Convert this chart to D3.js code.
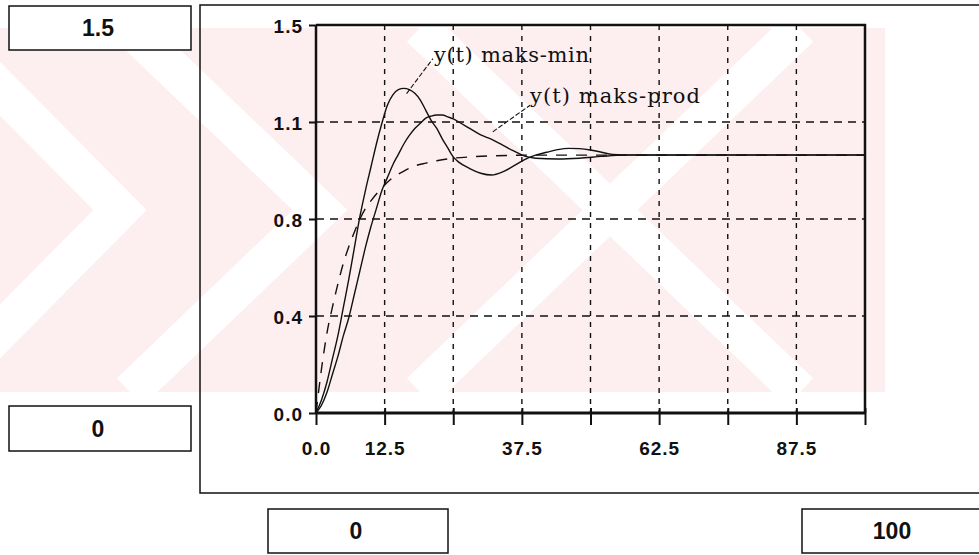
<!DOCTYPE html>
<html>
<head>
<meta charset="utf-8">
<script src="https://cdn.jsdelivr.net/npm/d3@7"></script>
<style>
  body { margin: 0; background: #fff; }
  svg { display: block; }
  .tick text { font-family: "Liberation Sans", Arial, sans-serif; font-weight: bold; font-size: 19px; letter-spacing: 1px; fill: #111; }
  .box text { font-family: "Liberation Sans", Arial, sans-serif; font-weight: bold; font-size: 23px; fill: #111; }
  .lbl { font-family: "DejaVu Serif", serif; font-size: 21px; fill: #111; }
</style>
</head>
<body>
<div id="chart"></div>
<script>
// step responses y(t)

// maks-min (higher overshoot)
let tMin = [0, 1, 2, 3, 4, 5, 6, 7, 8, 9, 10, 11, 12, 13, 14, 15, 16, 17, 18, 19, 20, 21, 22, 23, 24, 25, 26, 28, 30, 32, 34, 36, 38, 40, 42, 44, 46, 48, 50, 52, 54, 58, 100]
let yMin = [0, 0.05, 0.12, 0.21, 0.30, 0.41, 0.52, 0.64, 0.76, 0.86, 0.95, 1.04, 1.12, 1.19, 1.23, 1.25, 1.255, 1.25, 1.236, 1.21, 1.17, 1.13, 1.10, 1.06, 1.025, 0.99, 0.97, 0.945, 0.927, 0.92, 0.932, 0.955, 0.98, 0.997, 1.008, 1.018, 1.023, 1.022, 1.017, 1.008, 1.0, 0.998, 0.998]

// maks-prod (lower overshoot, slower)
let tProd = [0, 1, 2, 3, 4, 5, 6, 7, 8, 9, 10, 11, 12, 13, 14, 15, 16, 17, 18, 19, 20, 21, 22, 23, 24, 25, 26, 28, 30, 32, 34, 36, 38, 40, 44, 48, 52, 56, 100]
let yProd = [0, 0.03, 0.08, 0.15, 0.22, 0.30, 0.37, 0.46, 0.55, 0.64, 0.72, 0.79, 0.86, 0.91, 0.96, 1.0, 1.04, 1.073, 1.10, 1.12, 1.14, 1.148, 1.152, 1.152, 1.145, 1.137, 1.125, 1.10, 1.075, 1.058, 1.036, 1.013, 0.993, 0.985, 0.982, 0.985, 0.992, 0.997, 0.997]

// reference response (dashed)
let tRef = [0, 1, 2, 3, 4, 5, 6, 7, 8, 9, 10, 12, 14, 16, 18, 20, 22, 25, 28, 32, 36, 40, 100]
let yRef = [0, 0.17, 0.31, 0.41, 0.50, 0.58, 0.645, 0.70, 0.75, 0.79, 0.82, 0.87, 0.91, 0.935, 0.955, 0.966, 0.975, 0.985, 0.99, 0.994, 0.996, 0.997, 0.997]

let xTicks = [0, 12.5, 25, 37.5, 50, 62.5, 75, 87.5, 100]
let xLabeled = [0, 12.5, 37.5, 62.5, 87.5]
let yTicks = [0, 0.375, 0.75, 1.125, 1.5]

// the little value boxes around the plot
let boxTexts = ["1.5", "0", "0", "100"]

let W = 979, H = 555

let svg = d3.select('#chart')
    .append('svg')
    .attr('width', W)
    .attr('height', H)

// faint watermark behind everything
let wm = svg.append('g')
wm.append('rect')
    .attr('x', 0).attr('y', 28).attr('width', 885).attr('height', 364)
    .attr('fill', '#fdeef0')
let stripes = [
    [[130, 28], [320, 210], [130, 392]],
    [[-60, 28], [120, 210], [-60, 392]],
    [[420, 28], [610, 210], [800, 28]],
    [[420, 392], [610, 210], [800, 392]]
]
stripes.forEach(s => {
    wm.append('polyline')
        .attr('points', s.map(p => p.join(',')).join(' '))
        .attr('fill', 'none')
        .attr('stroke', '#fff')
        .attr('stroke-width', 38)
})

// outer panel frame
svg.append('path')
    .attr('d', 'M985,5 H200 V493 H985')
    .attr('fill', 'none')
    .attr('stroke', '#111')
    .attr('stroke-width', 1.5)

let boxes = [
    {x: 9, y: 6, w: 182, h: 44},
    {x: 9, y: 406, w: 182, h: 45},
    {x: 268, y: 509, w: 180, h: 44},
    {x: 802, y: 509, w: 182, h: 44}
]
let bg = svg.append('g').attr('class', 'box')
boxes.forEach((b, i) => {
    bg.append('rect')
        .attr('x', b.x).attr('y', b.y).attr('width', b.w).attr('height', b.h)
        .attr('fill', '#fff')
        .attr('stroke', '#111')
        .attr('stroke-width', 1.5)
    bg.append('text')
        .attr('x', b.x + b.w / 2 - (i == 3 ? 1 : 2))
        .attr('y', b.y + b.h / 2)
        .attr('dy', '0.36em')
        .attr('text-anchor', 'middle')
        .text(boxTexts[i])
})

let x = d3.scaleLinear().domain([0, 100]).range([316, 865])
let y = d3.scaleLinear().domain([0, 1.5]).range([413, 25])

// grid
let grid = svg.append('g')
grid.selectAll('.vg')
    .data(xTicks.slice(1, -1))
    .enter().append('line')
    .attr('x1', d => x(d)).attr('x2', d => x(d))
    .attr('y1', y(1.5)).attr('y2', y(0))
    .attr('stroke', '#111').attr('stroke-width', 1.4)
    .attr('stroke-dasharray', '5,6')
grid.selectAll('.hg')
    .data(yTicks.slice(1, -1))
    .enter().append('line')
    .attr('x1', x(0)).attr('x2', x(100))
    .attr('y1', d => y(d)).attr('y2', d => y(d))
    .attr('stroke', '#111').attr('stroke-width', 1.6)
    .attr('stroke-dasharray', '8,6')

// top and right frame of the plot
svg.append('path')
    .attr('d', `M${x(0)},${y(1.5)} H${x(100)} V${y(0)}`)
    .attr('fill', 'none')
    .attr('stroke', '#111')
    .attr('stroke-width', 2.5)

let xAxis = d3.axisBottom(x)
    .tickValues(xTicks)
    .tickSize(12)
    .tickPadding(17)
    .tickFormat(d => xLabeled.includes(d) ? d3.format('.1f')(d) : '')
let gx = svg.append('g')
    .attr('transform', `translate(0,${y(0)})`)
    .call(xAxis)
gx.select('.domain').attr('stroke-width', 3).attr('stroke', '#111').attr('d', `M${x(0)},0H${x(100)}`)
gx.selectAll('.tick line').attr('stroke', '#111').attr('stroke-width', 2).attr('y1', -5)

let yAxis = d3.axisLeft(y)
    .tickValues(yTicks)
    .tickSize(7)
    .tickPadding(6)
    .tickFormat(d3.format('.1f'))
let gy = svg.append('g')
    .attr('transform', `translate(${x(0)},0)`)
    .call(yAxis)
gy.select('.domain').attr('stroke-width', 2.5).attr('stroke', '#111').attr('d', `M0,${y(1.5)}V${y(0)}`)
gy.selectAll('.tick line').attr('stroke', '#111').attr('stroke-width', 2)
gy.selectAll('.tick text').attr('dy', '0.42em')

// curves
let line = d3.line()
    .x(d => x(d[0]))
    .y(d => y(d[1]))
    .curve(d3.curveMonotoneX)

let series = [
    {t: tRef, v: yRef, dash: '11,9'},
    {t: tProd, v: yProd, dash: null},
    {t: tMin, v: yMin, dash: null}
]
series.forEach(s => {
    svg.append('path')
        .datum(d3.zip(s.t, s.v))
        .attr('d', line)
        .attr('fill', 'none')
        .attr('stroke', '#111')
        .attr('stroke-width', 1.4)
        .attr('stroke-dasharray', s.dash)
})

// curve labels with pointer lines
let labels = [
    {text: 'y(t) maks-min', tx: 434, ty: 62, from: [16.5, 1.235], to: [21.3, 1.37]},
    {text: 'y(t) maks-prod', tx: 530, ty: 103, from: [32.2, 1.087], to: [39, 1.19]}
]
labels.forEach(l => {
    svg.append('line')
        .attr('x1', x(l.from[0])).attr('y1', y(l.from[1]))
        .attr('x2', x(l.to[0])).attr('y2', y(l.to[1]))
        .attr('stroke', '#111').attr('stroke-width', 1.1)
        .attr('stroke-dasharray', '5,2')
    svg.append('text')
        .attr('class', 'lbl')
        .attr('x', l.tx).attr('y', l.ty)
        .attr('textLength', l.text.length > 13 ? 170 : 155)
        .text(l.text)
})
</script>
</body>
</html>
